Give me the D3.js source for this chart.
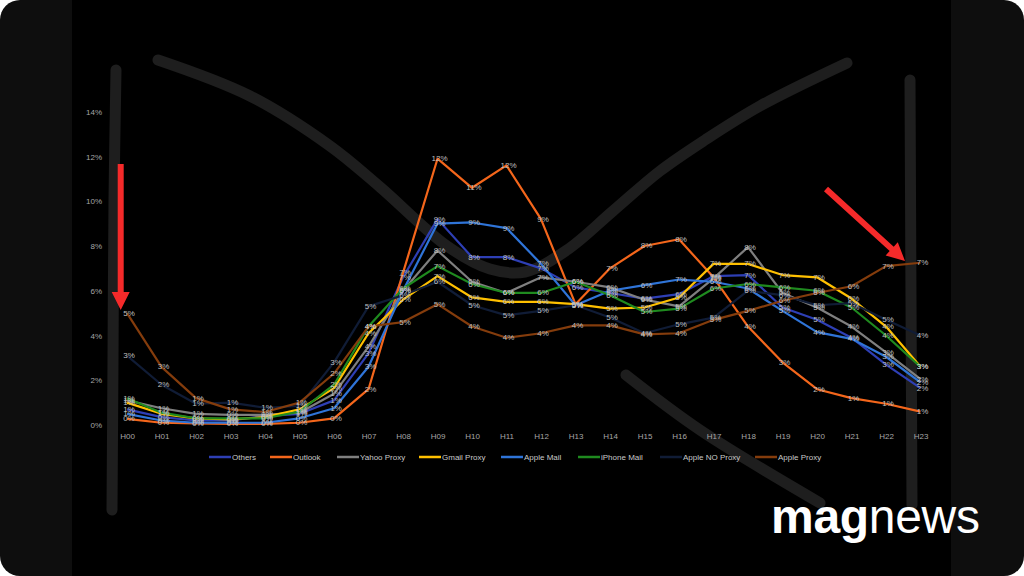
<!DOCTYPE html>
<html>
<head>
<meta charset="utf-8">
<script src="https://cdn.jsdelivr.net/npm/d3@7"></script>
<style>
  html, body { margin: 0; padding: 0; background: #fff; }
  svg { display: block; }
  text { font-family: "Liberation Sans", Arial, sans-serif; }
</style>
</head>
<body>
<div id="chart"></div>
<script>
// ---- data (share of opens per hour, %) ----
var hours = ["H00","H01","H02","H03","H04","H05","H06","H07","H08","H09","H10","H11",
             "H12","H13","H14","H15","H16","H17","H18","H19","H20","H21","H22","H23"];

var seriesNames = ["Others","Outlook","Yahoo Proxy","Gmail Proxy","Apple Mail","iPhone Mail","Apple NO Proxy","Apple Proxy"];
var seriesColors = ["#2e3fb5","#f4661b","#7f7f7f","#ffc000","#2f74d8","#1f8a1f","#101c36","#843c0c"];

var others       = [0.7, 0.35, 0.2, 0.2, 0.4, 0.5, 1.1, 3.2, 6.6, 9.2, 7.5, 7.5, 7.0, 6.15, 5.9, 5.65, 5.85, 6.65, 6.7, 5.25, 4.7, 3.9, 2.7, 1.65];
var outlook      = [0.27, 0.1, 0.07, 0.05, 0.05, 0.1, 0.3, 1.6, 6.8, 11.9, 10.6, 11.6, 9.2, 5.4, 7.0, 8.0, 8.3, 6.6, 4.4, 2.8, 1.6, 1.2, 0.95, 0.6];
var yahooProxy   = [1.1, 0.75, 0.5, 0.45, 0.45, 0.55, 1.4, 3.5, 6.0, 7.8, 6.4, 5.9, 6.6, 6.4, 6.15, 5.6, 5.3, 6.55, 7.95, 5.9, 5.25, 4.4, 3.25, 2.05];
var gmailProxy   = [1.0, 0.5, 0.3, 0.25, 0.35, 0.7, 1.65, 4.1, 5.6, 6.65, 5.7, 5.5, 5.5, 5.4, 5.2, 5.25, 5.7, 7.2, 7.2, 6.7, 6.6, 5.65, 4.4, 2.6];
var appleMail    = [0.5, 0.2, 0.1, 0.1, 0.1, 0.3, 0.75, 2.6, 6.0, 9.0, 9.05, 8.8, 7.2, 5.35, 6.0, 6.25, 6.5, 6.4, 6.1, 5.1, 4.15, 3.85, 3.05, 1.9];
var iphoneMail   = [1.2, 0.55, 0.3, 0.3, 0.3, 0.6, 1.8, 4.4, 6.1, 7.1, 6.3, 5.9, 5.9, 6.4, 5.8, 5.05, 5.2, 6.1, 6.3, 6.15, 6.0, 5.25, 4.0, 2.6];
var appleNoProxy = [3.1, 1.8, 0.95, 1.0, 0.77, 0.85, 2.8, 5.3, 5.8, 6.4, 5.35, 4.9, 5.1, 5.35, 4.8, 4.1, 4.5, 4.8, 6.0, 5.8, 5.35, 5.45, 4.7, 4.0];
var appleProxy   = [5.0, 2.6, 1.2, 0.7, 0.58, 1.0, 2.3, 4.4, 4.6, 5.4, 4.4, 3.9, 4.1, 4.45, 4.45, 4.05, 4.1, 4.7, 5.1, 5.55, 5.9, 6.2, 7.1, 7.25];

var yTicks = [0, 2, 4, 6, 8, 10, 12, 14];

var seriesValues = [others, outlook, yahooProxy, gmailProxy, appleMail, iphoneMail, appleNoProxy, appleProxy];
var series = seriesNames.map(function(name, i) {
    return { name: name, color: seriesColors[i], values: seriesValues[i] };
});

// ---- canvas ----
var W = 1024, H = 576;
var svg = d3.select("#chart").append("svg")
    .attr("width", W)
    .attr("height", H);

svg.append("rect")
    .attr("width", W).attr("height", H)
    .attr("rx", 20).attr("ry", 20)
    .attr("fill", "#0e0e0e");

svg.append("rect")
    .attr("x", 72).attr("width", 879).attr("height", H)
    .attr("fill", "#000");

// ---- hand drawn strokes behind the chart ----
var stroke = d3.line().curve(d3.curveCatmullRom);
var strokes = [
    [[116,70],[114,200],[113,360],[112,510]],
    [[158,60],[250,96],[330,146],[380,187],[447,246],[490,269],[525,272],[567,250],[613,211],[660,171],[705,140],[760,106],[847,63]],
    [[910,80],[911,300],[912,505]],
    [[626,375],[700,430],[820,503]]
];
svg.append("g").selectAll("path")
    .data(strokes)
    .enter().append("path")
    .attr("d", stroke)
    .attr("fill", "none")
    .attr("stroke", "#1e1e1e")
    .attr("stroke-width", 11)
    .attr("stroke-linecap", "round");

// ---- scales ----
var x = d3.scalePoint()
    .domain(hours)
    .range([127, 920.5]);

var y = d3.scaleLinear()
    .domain([0, 14])
    .range([425, 111.7]);

// y axis labels
var yAxis = d3.axisLeft(y)
    .tickValues(yTicks)
    .tickSize(0)
    .tickPadding(0)
    .tickFormat(function(d) { return d + "%"; });

svg.append("g")
    .attr("class", "y-axis")
    .attr("transform", "translate(102,0)")
    .call(yAxis)
    .call(function(g) { g.select(".domain").remove(); })
    .selectAll("text")
    .attr("fill", "#a6a6a6")
    .style("font-size", "8px")
    .style("font-family", "Liberation Sans, Arial, sans-serif");

// x axis labels
var xAxis = d3.axisBottom(x)
    .tickSize(0)
    .tickPadding(0);

svg.append("g")
    .attr("class", "x-axis")
    .attr("transform", "translate(0,433)")
    .call(xAxis)
    .call(function(g) { g.select(".domain").remove(); })
    .selectAll("text")
    .attr("fill", "#a6a6a6")
    .style("font-size", "8px")
    .style("font-family", "Liberation Sans, Arial, sans-serif");

// ---- lines ----
var line = d3.line()
    .x(function(d, i) { return x(hours[i]); })
    .y(function(d) { return y(d); });

svg.append("g").selectAll("path")
    .data(series)
    .enter().append("path")
    .attr("d", function(d) { return line(d.values); })
    .attr("fill", "none")
    .attr("stroke", function(d) { return d.color; })
    .attr("stroke-width", 2.2)
    .attr("stroke-linejoin", "round");

// ---- data labels ----
var labelGroups = svg.append("g").selectAll("g")
    .data(series)
    .enter().append("g");

labelGroups.selectAll("text")
    .data(function(d) { return d.values; })
    .enter().append("text")
    .attr("x", function(d, i) { return x(hours[i]) + 2; })
    .attr("y", function(d) { return y(d); })
    .attr("text-anchor", "middle")
    .attr("dominant-baseline", "central")
    .attr("fill", "#bfbfbf")
    .style("font-size", "8px")
    .text(function(d) { return Math.round(d) + "%"; });

// ---- legend ----
var legendX = [209, 270, 337, 419, 501, 578, 660, 755];
var legend = svg.append("g").selectAll("g")
    .data(series)
    .enter().append("g")
    .attr("transform", function(d, i) { return "translate(" + legendX[i] + ",457)"; });

legend.append("line")
    .attr("x1", 0).attr("x2", 22)
    .attr("stroke", function(d) { return d.color; })
    .attr("stroke-width", 2.5);

legend.append("text")
    .attr("x", 23)
    .attr("dominant-baseline", "central")
    .attr("fill", "#c8c8c8")
    .style("font-size", "8px")
    .text(function(d) { return d.name; });

// ---- red arrows ----
function arrow(x1, y1, x2, y2) {
    var ang = Math.atan2(y2 - y1, x2 - x1);
    var len = Math.hypot(x2 - x1, y2 - y1);
    var head = 18, half = 9, shaft = 3;
    var g = svg.append("g")
        .attr("transform", "translate(" + x1 + "," + y1 + ") rotate(" + (ang * 180 / Math.PI) + ")");
    g.append("path")
        .attr("d", "M0," + (-shaft) + "L" + (len - head) + "," + (-shaft) +
                   "L" + (len - head) + "," + (-half) + "L" + len + ",0" +
                   "L" + (len - head) + "," + half + "L" + (len - head) + "," + shaft +
                   "L0," + shaft + "Z")
        .attr("fill", "#f52a2a");
}
arrow(120.7, 164, 120.7, 310);
arrow(826, 189, 905, 261);

// ---- logo ----
var logo = svg.append("text")
    .attr("x", 771)
    .attr("y", 533)
    .attr("fill", "#fff")
    .style("font-size", "48px")
    .style("letter-spacing", "-0.3px");
logo.append("tspan").style("font-weight", "bold").text("mag");
logo.append("tspan").style("font-weight", "normal").text("news");
</script>
</body>
</html>
